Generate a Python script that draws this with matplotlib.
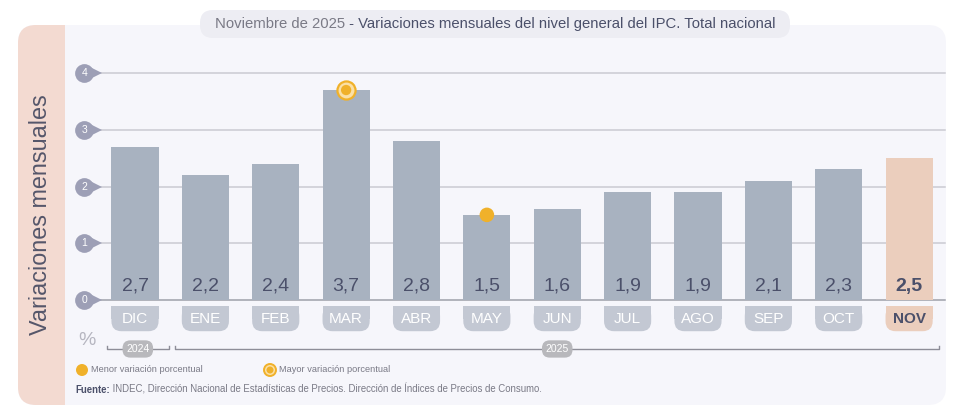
import matplotlib.pyplot as plt
from matplotlib.patches import FancyBboxPatch, Rectangle, Ellipse
import numpy as np

plt.rcParams['font.family'] = ['Liberation Sans', 'DejaVu Sans']

meses = ["DIC", "ENE", "FEB", "MAR", "ABR", "MAY", "JUN", "JUL", "AGO", "SEP", "OCT", "NOV"]
valores = [2.7, 2.2, 2.4, 3.7, 2.8, 1.5, 1.6, 1.9, 1.9, 2.1, 2.3, 2.5]
etiquetas = ["2,7", "2,2", "2,4", "3,7", "2,8", "1,5", "1,6", "1,9", "1,9", "2,1", "2,3", "2,5"]
y_ticks = [0, 1, 2, 3, 4]
anios = ["2024", "2025"]
meses_por_anio = [1, 11]

W, H = 964, 408
BAR = "#a8b2c0"
BAR_NOV = "#ebcebd"
BOX = "#c3c8d3"
DARK = "#4b506a"
GRAY = "#7a7a86"
ORANGE = "#f0b12a"

fig = plt.figure(figsize=(W / 100, H / 100), dpi=100)
fig.patch.set_facecolor("white")
renderer = fig.canvas.get_renderer()


def fx(x):
    return x / W


def fy(y):
    return 1 - y / H


def fig_box(x0, y0, x1, y1, color, r, z):
    p = FancyBboxPatch((fx(x0), fy(y1)), fx(x1) - fx(x0), fy(y0) - fy(y1),
                       boxstyle=f"round,pad=0,rounding_size={r / W}",
                       mutation_aspect=W / H, transform=fig.transFigure,
                       facecolor=color, edgecolor="none", zorder=z)
    fig.patches.append(p)


def fig_dot(x, y, r, z, **kw):
    fig.patches.append(Ellipse((fx(x), fy(y)), 2 * r / W, 2 * r / H,
                               transform=fig.transFigure, zorder=z, **kw))


def two_texts(x, y, a, b, size, ca, cb, wa="normal", wb="normal"):
    # dos textos seguidos sobre la misma linea base
    t = fig.text(fx(x), fy(y), a, fontsize=size, color=ca, fontweight=wa,
                 va="baseline", ha="left")
    bb = t.get_window_extent(renderer)
    fig.text(bb.x1 / fig.bbox.width, fy(y), b, fontsize=size, color=cb,
             fontweight=wb, va="baseline", ha="left")


# panel de fondo
fig_box(18, 25, 946, 405, "#f6f6fb", 18, z=-10)
fig_box(18, 25, 90, 405, "#f3dad1", 18, z=-9)
fig.patches.append(Rectangle((fx(65), fy(405)), fx(100) - fx(65), fy(25) - fy(405),
                             transform=fig.transFigure, facecolor="#f6f6fb",
                             edgecolor="none", zorder=-8))
fig_box(200, 10, 790, 38, "#ededf3", 13, z=-7)

two_texts(215, 28, "Noviembre de 2025", " - Variaciones mensuales del nivel general del IPC. Total nacional",
          10.7, GRAY, DARK)

fig.text(fx(41), fy(215), "Variaciones mensuales", rotation=90, fontsize=16.8,
         color="#55566a", ha="center", va="center")

# ejes
x_per_px = 1 / 70.36
y_per_px = 1 / 56.75
ax = fig.add_axes([fx(97), 51.25 / H, 848 / W, 295.1 / H])
ax.set_facecolor("none")
ax.set_xlim(-0.54, 11.51)
ax.set_ylim(-1.0, 4.2)
ax.axis("off")

x = np.arange(len(meses))
for t in y_ticks:
    ax.plot([-0.54, 11.51], [t, t], color="#9ea0aa" if t == 0 else "#cacad2",
            lw=1.1, zorder=1, clip_on=False)
    # burbuja del tick
    ax.plot([-0.56], [t], marker=">", markersize=8, color="#9d9fb6",
            clip_on=False, zorder=3, markeredgewidth=0)
    ax.plot([-0.72], [t], marker="o", markersize=13.5, color="#9d9fb6",
            clip_on=False, zorder=3, markeredgewidth=0)
    ax.text(-0.72, t, str(t), color="white", fontsize=7.5, ha="center",
            va="center", zorder=4, clip_on=False)

colores = [BAR] * (len(meses) - 1) + [BAR_NOV]
ax.bar(x, valores, width=0.67, color=colores, zorder=2)

for i, (m, lab) in enumerate(zip(meses, etiquetas)):
    nov = i == len(meses) - 1
    ax.text(i, 0.24, lab, ha="center", va="center", fontsize=14, color=DARK,
            fontweight="bold" if nov else "normal", zorder=4)
    bc = BAR_NOV if nov else BOX
    top, bot = -0.106, -0.55
    mid = (top + bot) / 2
    box = FancyBboxPatch((i - 0.335, bot), 0.67, top - bot,
                         boxstyle=f"round,pad=0,rounding_size={10 * x_per_px}",
                         mutation_aspect=y_per_px / x_per_px,
                         facecolor=bc, edgecolor="none", zorder=2, clip_on=False)
    ax.add_patch(box)
    ax.add_patch(Rectangle((i - 0.335, mid), 0.67, top - mid,
                           facecolor=bc, edgecolor="none", zorder=2, clip_on=False))
    ax.text(i, mid - 0.01, m, ha="center", va="center", fontsize=11,
            color=DARK if nov else "white", fontweight="bold" if nov else "normal",
            zorder=4, clip_on=False)

# marcadores mayor / menor
i_max = int(np.argmax(valores))
i_min = int(np.argmin(valores))
ax.scatter([i_max], [valores[i_max]], s=170, facecolor="#fbe0a6", edgecolor=ORANGE,
           linewidth=1.6, zorder=5, clip_on=False)
ax.scatter([i_max], [valores[i_max]], s=55, facecolor=ORANGE, edgecolor="none",
           zorder=6, clip_on=False)
ax.scatter([i_min], [valores[i_min]], s=110, facecolor=ORANGE, edgecolor="none",
           zorder=5, clip_on=False)

# "%" y corchetes de anios
ax.text(-0.68, -0.72, "%", fontsize=14, color="#b6b6c0", ha="center", va="center",
        clip_on=False)
yb = -0.863
start = 0
for anio, n in zip(anios, meses_por_anio):
    if start == 0:
        x0, x1 = start - 0.4, start + n - 1 + 0.48
    else:
        x0, x1 = start - 0.43, start + n - 1 + 0.43
    ax.plot([x0, x0, x1, x1], [yb + 0.06, yb, yb, yb + 0.06], color="#8e8e98",
            lw=1, clip_on=False, zorder=2)
    cx = (x0 + x1) / 2
    ax.text(cx, yb, anio, fontsize=7.5, color="white", ha="center", va="center",
            zorder=4, clip_on=False,
            bbox=dict(boxstyle="round,pad=0.35,rounding_size=0.75", fc="#b8b8bc",
                      ec="none"))
    start += n

# leyenda
fig_dot(82, 370, 6, 5, facecolor=ORANGE, edgecolor="none")
fig.text(fx(91), fy(370), "Menor variación porcentual", fontsize=6.7, color=GRAY,
         va="center", ha="left")
fig_dot(270, 370, 6, 5, facecolor="#fbe0a6", edgecolor=ORANGE, lw=1.4)
fig_dot(270, 370, 3.5, 6, facecolor=ORANGE, edgecolor="none")
fig.text(fx(279), fy(370), "Mayor variación porcentual", fontsize=6.7, color=GRAY,
         va="center", ha="left")

two_texts(75, 393, "Fuente:", " INDEC, Dirección Nacional de Estadísticas de Precios. Dirección de Índices de Precios de Consumo.",
          6.9, DARK, GRAY, wa="bold")

fig.savefig("out.png", dpi=100)
